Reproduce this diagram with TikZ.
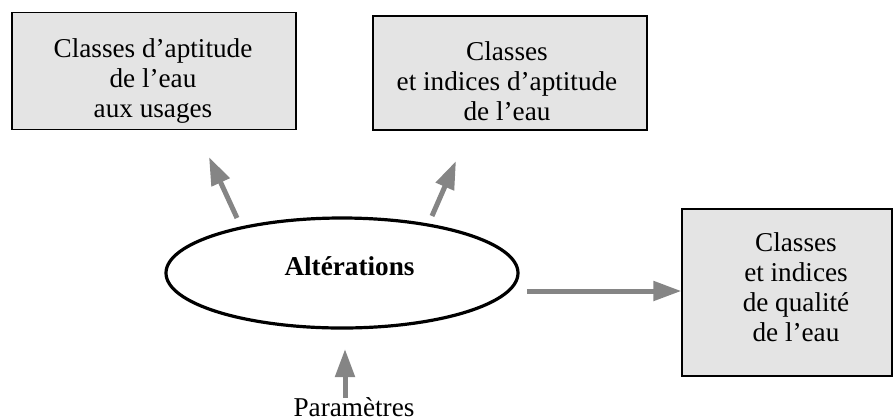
\documentclass[tikz,border=0pt]{standalone}
\usepackage{fontspec}
\setmainfont{Liberation Serif}
\usetikzlibrary{arrows.meta,shapes.geometric}
\definecolor{boxgray}{HTML}{E4E4E4}
\definecolor{arrowgray}{HTML}{858585}
\tikzset{
  classbox/.style={draw=black,line width=0.6pt,fill=boxgray,inner sep=0pt},
  boxtext/.style={align=center,inner sep=0pt,anchor=base,font=\fontsize{13.6}{15}\selectfont},
  flow/.style={draw=arrowgray,line width=2.5pt,-{Triangle[length=14pt,width=9.5pt]}}
}
\begin{document}
\begin{tikzpicture}[x=0.5pt,y=-0.5pt]
\useasboundingbox (0,0) rectangle (894,419);
\node[classbox,minimum width=142pt,minimum height=58.3pt] (usages) at (154,71) {};
\node[classbox,minimum width=137pt,minimum height=57pt] (aptitude) at (510,73) {};
\node[classbox,minimum width=105pt,minimum height=83.5pt] (qualite) at (787,292.5) {};
\node[draw=black,line width=1.6pt,ellipse,minimum width=176pt,minimum height=55pt,inner sep=0pt] (alt) at (342,273) {};
\node[boxtext] (usagestext) at (153,117) {Classes d'aptitude\\de l'eau\\aux usages};
\node[boxtext] (aptitudetext) at (507,120) {Classes\\et indices d'aptitude\\de l'eau};
\node[boxtext] (qualitetext) at (796,341) {Classes\\et indices\\de qualité\\de l'eau};
\node[boxtext,font=\fontsize{13.6}{15}\selectfont\bfseries] (alttext) at (349.5,275) {Altérations};
\node[boxtext] (param) at (354,416) {Paramètres};
\coordinate (a1) at (237,218);
\coordinate (b1) at (209,157);
\coordinate (a2) at (432,216);
\coordinate (b2) at (456,161);
\coordinate (a3) at (527,291);
\coordinate (a4) at (345,398);
\coordinate (b4) at (345,349);
\draw[flow] (a1) -- (b1);
\draw[flow] (a2) -- (b2);
\draw[flow] (a3) -- (qualite.west |- a3);
\draw[flow] (a4) -- (b4);
\end{tikzpicture}
\end{document}
